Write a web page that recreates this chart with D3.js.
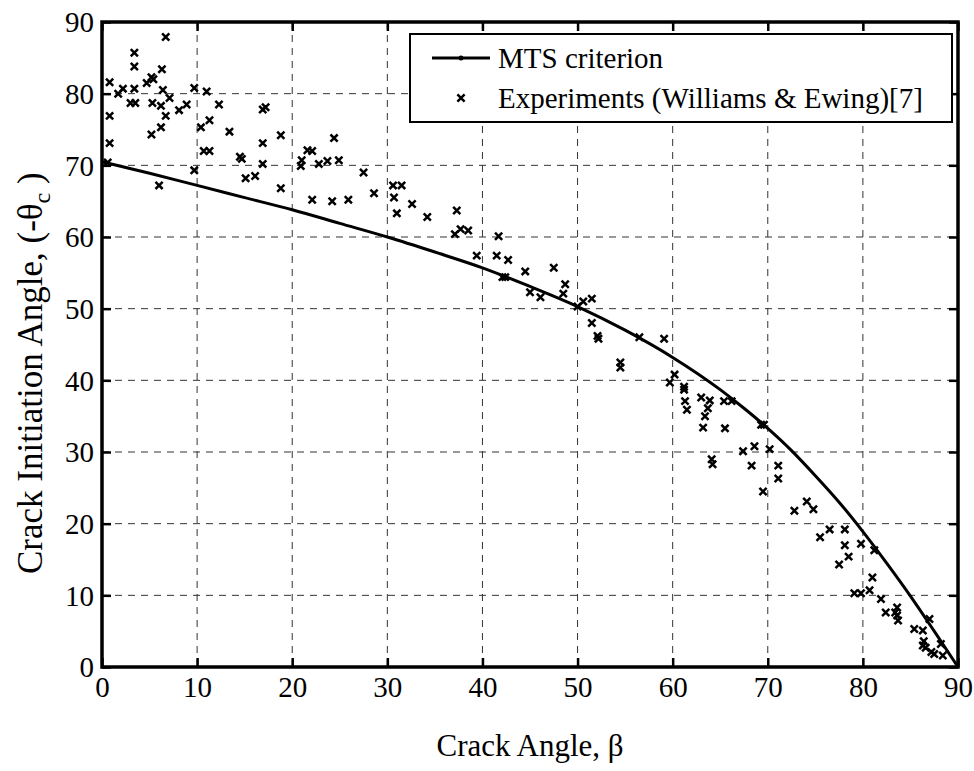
<!DOCTYPE html>
<html>
<head>
<meta charset="utf-8">
<script src="https://cdn.jsdelivr.net/npm/d3@7"></script>
<style>
  body { margin: 0; background: #fff; }
  text { font-family: "Liberation Serif", "Times New Roman", serif; fill: #000; }
</style>
</head>
<body>
<div id="chart"></div>
<script>
// MTS criterion curve
const mtsBeta  = [0, 5, 10, 15, 20, 25, 30, 35, 40, 45, 50, 55, 60, 65, 67.5, 70, 72.5, 75, 77.5, 80, 82.5, 85, 87.5, 90];
const mtsTheta = [70.5, 68.9, 67.2, 65.5, 63.8, 61.9, 60.0, 57.9, 55.7, 53.1, 50.3, 47.0, 43.2, 38.7, 36.1, 33.3, 30.2, 26.7, 23.0, 18.9, 14.5, 9.9, 5.0, 0];

// Williams & Ewing experiments
const expBeta = [
  6.7, 3.4, 3.4, 0.8, 6.3, 4.7, 5.2, 5.4, 1.7, 2.2, 3.4, 3.0, 3.5, 6.4, 7.1, 5.3, 6.2, 6.7, 8.1, 8.9,
  9.7, 11.0, 12.3, 0.8, 0.8, 5.2, 6.2, 10.4, 11.3, 10.7, 11.3, 13.4, 14.5, 14.7, 9.7, 6.0, 16.9, 17.2, 16.9, 16.9,
  18.8, 15.1, 16.1, 18.8, 20.9, 21.0, 21.6, 22.1, 22.8, 23.7, 24.9, 24.4, 22.1, 24.2, 25.9, 27.5, 28.6, 30.6, 31.5, 30.7,
  31.0, 32.6, 34.2, 37.3, 37.1, 37.7, 38.5, 39.4, 41.7, 41.5, 42.7, 42.1, 42.4, 44.5, 45.0, 46.1, 47.5, 48.7, 48.5, 50.0,
  50.6, 51.5, 51.5, 52.1, 52.2, 54.5, 54.5, 56.5, 59.1, 60.2, 59.7, 61.2, 61.2, 61.3, 61.5, 63.0, 63.9, 63.7, 63.4, 63.2,
  65.4, 66.2, 65.5, 64.1, 64.2, 67.4, 68.6, 68.3, 69.3, 69.6, 70.2, 71.1, 71.1, 69.5, 72.8, 74.1, 74.8, 75.5, 76.5, 78.1,
  78.1, 78.5, 77.5, 79.8, 81.2, 81.0, 79.1, 79.8, 80.7, 81.9, 82.4, 83.4, 83.6, 83.6, 83.7, 85.4, 86.3, 87.0, 86.4, 86.3,
  86.6, 87.2, 87.5, 88.2, 88.4, 0.6
];
const expTheta = [
  87.9, 85.7, 83.8, 81.6, 83.4, 81.5, 82.3, 82.0, 80.0, 80.7, 80.7, 78.7, 78.7, 80.5, 79.4, 78.7, 78.3, 76.9, 77.7, 78.5,
  80.8, 80.3, 78.5, 76.9, 73.1, 74.3, 75.3, 75.3, 76.3, 72.0, 72.0, 74.7, 71.2, 70.9, 69.3, 67.2, 77.8, 78.1, 73.1, 70.2,
  74.2, 68.2, 68.5, 66.8, 69.9, 70.7, 72.1, 72.0, 70.2, 70.6, 70.7, 73.8, 65.2, 65.0, 65.2, 69.0, 66.1, 67.2, 67.2, 65.5,
  63.3, 64.6, 62.8, 63.7, 60.4, 61.1, 60.9, 57.4, 60.1, 57.4, 56.8, 54.4, 54.4, 55.2, 52.3, 51.6, 55.7, 53.4, 52.1, 50.3,
  51.0, 51.4, 48.0, 46.2, 45.8, 42.5, 41.8, 46.0, 45.8, 40.8, 39.7, 39.1, 38.7, 37.1, 35.9, 37.6, 37.2, 36.1, 35.0, 33.4,
  37.1, 37.1, 33.3, 29.0, 28.3, 30.1, 30.8, 28.1, 33.8, 33.8, 30.4, 28.1, 26.3, 24.5, 21.8, 23.1, 22.0, 18.1, 19.2, 19.2,
  17.0, 15.4, 14.3, 17.2, 16.3, 12.5, 10.3, 10.3, 10.7, 9.5, 7.6, 7.6, 8.3, 7.2, 6.5, 5.3, 5.1, 6.7, 3.6, 3.0,
  2.7, 2.1, 1.8, 3.2, 1.6, 70.4
];

const xTicks = [0, 10, 20, 30, 40, 50, 60, 70, 80, 90];
const yTicks = [0, 10, 20, 30, 40, 50, 60, 70, 80, 90];
const legendLabels = ['MTS criterion', 'Experiments (Williams & Ewing)[7]'];

const W = 974, H = 771;
const margin = { left: 102, right: 16, top: 22, bottom: 104 };
const width = W - margin.left - margin.right;
const height = H - margin.top - margin.bottom;

const svg = d3.select('#chart').append('svg')
  .attr('width', W).attr('height', H);
svg.append('rect').attr('width', W).attr('height', H).attr('fill', '#fff');

const plot = svg.append('g')
  .attr('transform', `translate(${margin.left},${margin.top})`);

const x = d3.scaleLinear().domain([0, 90]).range([0, width]);
const y = d3.scaleLinear().domain([0, 90]).range([height, 0]);

// dashed grid
plot.append('g').selectAll('line')
  .data(xTicks.filter(d => d > 0 && d < 90))
  .join('line')
  .attr('x1', d => x(d)).attr('x2', d => x(d))
  .attr('y1', 0).attr('y2', height)
  .attr('stroke', '#333').attr('stroke-width', 1)
  .attr('stroke-dasharray', '7,6');
plot.append('g').selectAll('line')
  .data(yTicks.filter(d => d > 0 && d < 90))
  .join('line')
  .attr('x1', 0).attr('x2', width)
  .attr('y1', d => y(d)).attr('y2', d => y(d))
  .attr('stroke', '#333').attr('stroke-width', 1)
  .attr('stroke-dasharray', '7,6');

// MTS curve
const mts = mtsBeta.map((b, i) => [b, mtsTheta[i]]);
plot.append('path')
  .datum(mts)
  .attr('fill', 'none')
  .attr('stroke', '#000')
  .attr('stroke-width', 3)
  .attr('stroke-linejoin', 'round')
  .attr('d', d3.line().x(d => x(d[0])).y(d => y(d[1])).curve(d3.curveMonotoneX));

// experiment markers
const s = 3.6;
const cross = `M${-s},${-s}L${s},${s}M${-s},${s}L${s},${-s}`;
plot.append('g').selectAll('path')
  .data(expBeta.map((b, i) => [b, expTheta[i]]))
  .join('path')
  .attr('transform', d => `translate(${x(d[0])},${y(d[1])})`)
  .attr('d', cross)
  .attr('stroke', '#000')
  .attr('stroke-width', 2.5)
  .attr('fill', 'none');

// axes, ticks pointing inward on all four sides
const fmt = d3.format('d');
const axB = plot.append('g').attr('transform', `translate(0,${height})`)
  .call(d3.axisBottom(x).tickValues(xTicks).tickSize(-9).tickPadding(9).tickFormat(fmt));
const axL = plot.append('g')
  .call(d3.axisLeft(y).tickValues(yTicks).tickSize(-9).tickPadding(8).tickFormat(fmt));
const axT = plot.append('g')
  .call(d3.axisTop(x).tickValues(xTicks).tickSize(-9).tickFormat(''));
const axR = plot.append('g').attr('transform', `translate(${width},0)`)
  .call(d3.axisRight(y).tickValues(yTicks).tickSize(-9).tickFormat(''));

[axB, axL, axT, axR].forEach(a => {
  a.select('.domain').remove();
  a.selectAll('.tick line').attr('stroke', '#000').attr('stroke-width', 2.5);
  a.selectAll('.tick text')
    .style('font-family', '"Liberation Serif", "Times New Roman", serif')
    .style('font-size', '29px')
    .attr('fill', '#000');
});
axB.selectAll('.tick text').attr('dy', '0.72em');
axL.selectAll('.tick text').attr('dy', '0.34em');

plot.append('rect')
  .attr('width', width).attr('height', height)
  .attr('fill', 'none').attr('stroke', '#000').attr('stroke-width', 3.5);

// axis titles
svg.append('text')
  .attr('x', margin.left + width / 2).attr('y', 756)
  .attr('text-anchor', 'middle')
  .style('font-size', '31px')
  .text('Crack Angle, β');

const yl = svg.append('text')
  .attr('transform', 'translate(42,574) rotate(-90)')
  .attr('text-anchor', 'start')
  .style('font-size', '35px');
yl.append('tspan').text('Crack Initiation Angle, (-θ');
yl.append('tspan').attr('dy', 8).style('font-size', '24px').text('c');
yl.append('tspan').attr('dy', -8).text(' )');

// legend
const lg = svg.append('g');
lg.append('rect')
  .attr('x', 410).attr('y', 34).attr('width', 542).attr('height', 88)
  .attr('fill', '#fff').attr('stroke', '#000').attr('stroke-width', 2);
lg.append('line')
  .attr('x1', 432).attr('x2', 490).attr('y1', 58).attr('y2', 58)
  .attr('stroke', '#000').attr('stroke-width', 3);
lg.append('circle').attr('cx', 461).attr('cy', 58).attr('r', 2.5).attr('fill', '#000');
lg.append('path')
  .attr('transform', 'translate(461,98)')
  .attr('d', cross).attr('stroke', '#000').attr('stroke-width', 2.5);
legendLabels.forEach((t, i) => {
  lg.append('text')
    .attr('x', 498).attr('y', 68 + i * 40)
    .style('font-size', '29px')
    .text(t);
});
</script>
</body>
</html>
